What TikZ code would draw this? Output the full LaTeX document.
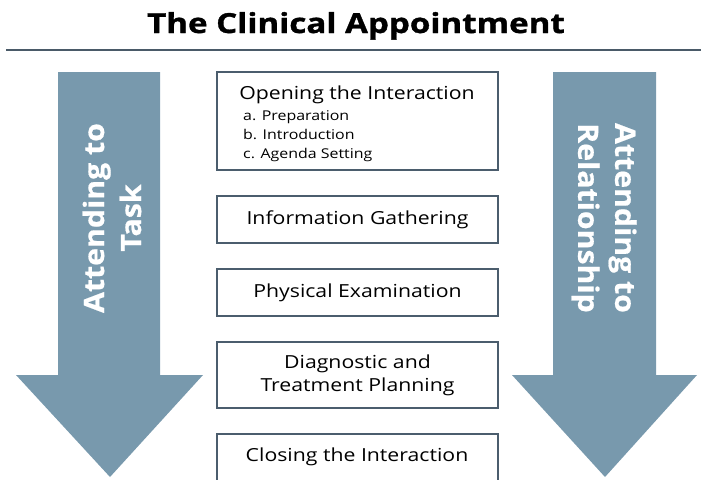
\documentclass[tikz,border=0pt]{standalone}
\usepackage{fontspec}
\setmainfont{Open Sans}[FakeStretch=1.18]
\newfontfamily\headfont{Open Sans}[FakeStretch=1.2,BoldFeatures={FakeBold=1.2}]
\newfontfamily\arrowfont{Open Sans}[FakeStretch=1.08,BoldFeatures={FakeBold=0.6}]
\begin{document}
\begin{tikzpicture}[x=1pt,y=-1pt,
  flowarrow/.style={fill=arrowblue,draw=none},
  arrowtext/.style={text=white,font=\arrowfont\fontsize{28}{37}\selectfont\bfseries,align=center,inner sep=0pt},
  stagebox/.style={draw=boxedge,line width=2pt,fill=white,inner sep=0pt,minimum width=281pt},
  stagetext/.style={font=\fontsize{18}{22}\selectfont,align=center,inner sep=0pt,text=black},
  subitem/.style={font=\fontsize{13.5}{17}\selectfont,anchor=base west,inner sep=0pt,text=black}]
\definecolor{arrowblue}{HTML}{7899AD}
\definecolor{boxedge}{HTML}{4B5D6D}
\definecolor{ruleline}{HTML}{4A5A68}
\useasboundingbox (0,0) rectangle (701,479);
\clip (0,0) rectangle (701,479);

% heading and rule beneath it
\node[font=\headfont\fontsize{27.6}{32}\selectfont\bfseries,anchor=base,inner sep=0pt] (title) at (356,33) {The Clinical Appointment};
\coordinate (ruleL) at (6,50);
\coordinate (ruleR) at (701,50);
\draw[ruleline,line width=2.4pt] (ruleL) -- (ruleR);

% the two large downward arrows
\fill[flowarrow] (58,72) -- (160,72) -- (160,375) -- (203,375) -- (110,477) -- (16,375) -- (58,375) -- cycle;
\fill[flowarrow] (553,72) -- (656,72) -- (656,375) -- (697,375) -- (605,477) -- (512,375) -- (553,375) -- cycle;
\node[arrowtext,rotate=90] (task) at (112,218) {Attending to\\Task};
\node[arrowtext,rotate=-90] (relation) at (604,218) {Attending to\\Relationship};

% stages of the appointment
\node[stagebox,minimum height=98pt] (open) at (357.5,121) {};
\node[stagetext,anchor=base] (opent) at (357,99) {Opening the Interaction};
\node[subitem] (prep) at (243,120) {a. Preparation};
\node[subitem] (intro) at (243,139) {b. Introduction};
\node[subitem] (agenda) at (243,158) {c. Agenda Setting};

\node[stagebox,minimum height=47pt] (gather) at (357.5,219.5) {};
\node[stagetext] at (gather.center) {Information Gathering};

\node[stagebox,minimum height=47pt] (exam) at (357.5,292.5) {};
\node[stagetext] at (exam.center) {Physical Examination};

\node[stagebox,minimum height=66pt] (plan) at (357.5,375) {};
\node[stagetext,font=\fontsize{18}{23}\selectfont] at (plan.center) {Diagnostic and\\Treatment Planning};

\node[stagebox,minimum height=50pt] (close) at (357.5,459) {};
\node[stagetext] at (357,457) {Closing the Interaction};
\end{tikzpicture}
\end{document}
